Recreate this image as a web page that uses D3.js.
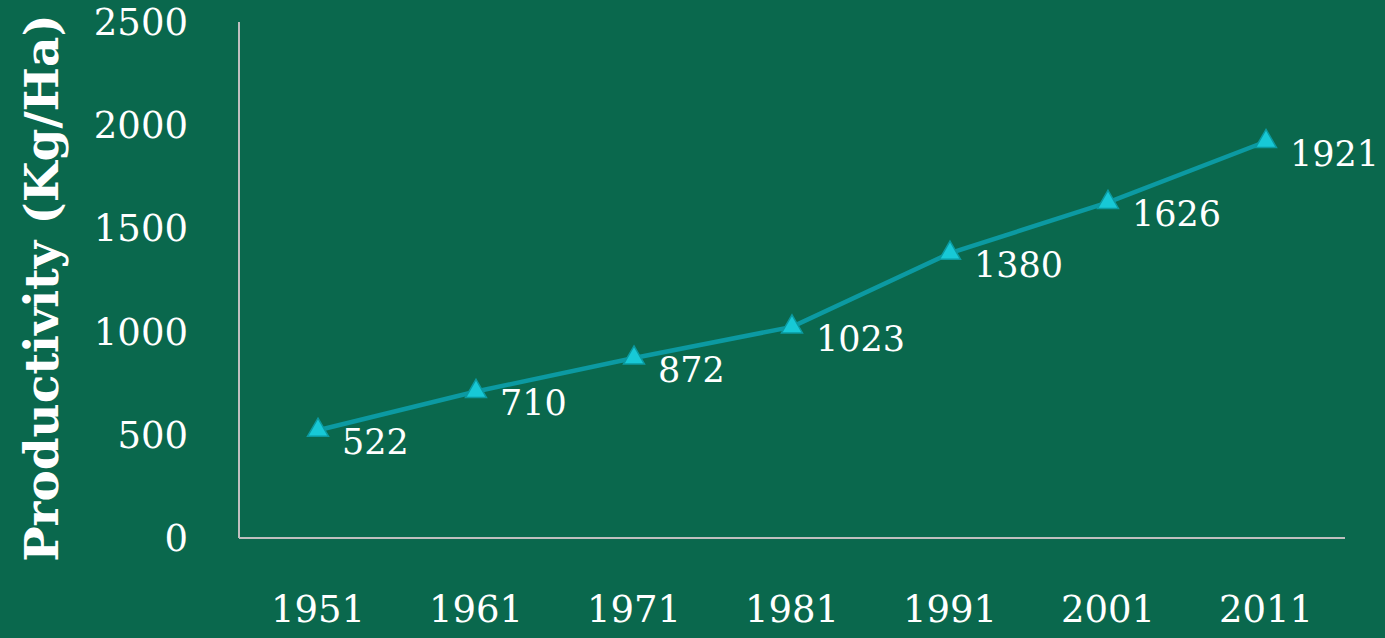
<!DOCTYPE html>
<html>
<head>
<meta charset="utf-8">
<script src="https://cdn.jsdelivr.net/npm/d3@7"></script>
<style>
  html, body { margin: 0; padding: 0; background: #0a684d; }
  svg { display: block; }
  text { font-family: 'DejaVu Serif', 'Liberation Serif', serif; fill: #ffffff; font-variant-numeric: oldstyle-nums; }
</style>
</head>
<body>
<svg id="chart" width="1385" height="638"></svg>
<script>
// Data
const years = ['1951', '1961', '1971', '1981', '1991', '2001', '2011'];
const productivity = [522, 710, 872, 1023, 1380, 1626, 1921];
const yTicks = [0, 500, 1000, 1500, 2000, 2500];

const svg = d3.select('#chart');
const width = 1385;
const height = 638;
const margin = { left: 239, right: 40, top: 22, bottom: 100 };

svg.append('rect').attr('width', width).attr('height', height).attr('fill', '#0a684d');

const x = d3.scalePoint().domain(years)
  .range([margin.left, width - margin.right]).padding(0.5);
const y = d3.scaleLinear().domain([0, 2500]).range([height - margin.bottom, margin.top]);

// axes
const axisColor = '#bfbfbf';
svg.append('line').attr('x1', margin.left).attr('x2', margin.left)
  .attr('y1', y(2500)).attr('y2', y(0))
  .attr('stroke', axisColor).attr('stroke-width', 2);
svg.append('line').attr('x1', margin.left).attr('x2', width - margin.right)
  .attr('y1', y(0)).attr('y2', y(0))
  .attr('stroke', axisColor).attr('stroke-width', 2);

// y tick labels
svg.append('g').selectAll('text').data(yTicks).enter().append('text')
  .attr('x', 188)
  .attr('y', d => y(d) + 13)
  .attr('text-anchor', 'end')
  .style('font-size', '37px')
  .text(d => d);

// x tick labels
svg.append('g').selectAll('text').data(years).enter().append('text')
  .attr('x', d => x(d))
  .attr('y', 622)
  .attr('text-anchor', 'middle')
  .style('font-size', '37px')
  .text(d => d);

// y title
svg.append('text')
  .attr('transform', `translate(58, ${(y(0) + y(2500)) / 2 + 8}) rotate(-90)`)
  .attr('text-anchor', 'middle')
  .style('font-size', '47px')
  .style('font-weight', 'bold')
  .text('Productivity (Kg/Ha)');

// line
const pts = years.map((d, i) => ({ year: d, value: productivity[i] }));
svg.append('path').datum(pts)
  .attr('fill', 'none')
  .attr('stroke', '#0c9aa2')
  .attr('stroke-width', 4.5)
  .attr('d', d3.line().x(d => x(d.year)).y(d => y(d.value)));

// markers
svg.append('g').selectAll('path').data(pts).enter().append('path')
  .attr('transform', d => `translate(${x(d.year)}, ${y(d.value)})`)
  .attr('d', d3.symbol().type(d3.symbolTriangle).size(190))
  .attr('fill', '#17c9d6')
  .attr('stroke', '#0b9aa0')
  .attr('stroke-width', 1.5);

// data labels
svg.append('g').selectAll('text').data(pts).enter().append('text')
  .attr('x', d => x(d.year) + 24)
  .attr('y', d => y(d.value) + 24)
  .style('font-size', '35px')
  .text(d => d.value);
</script>
</body>
</html>
